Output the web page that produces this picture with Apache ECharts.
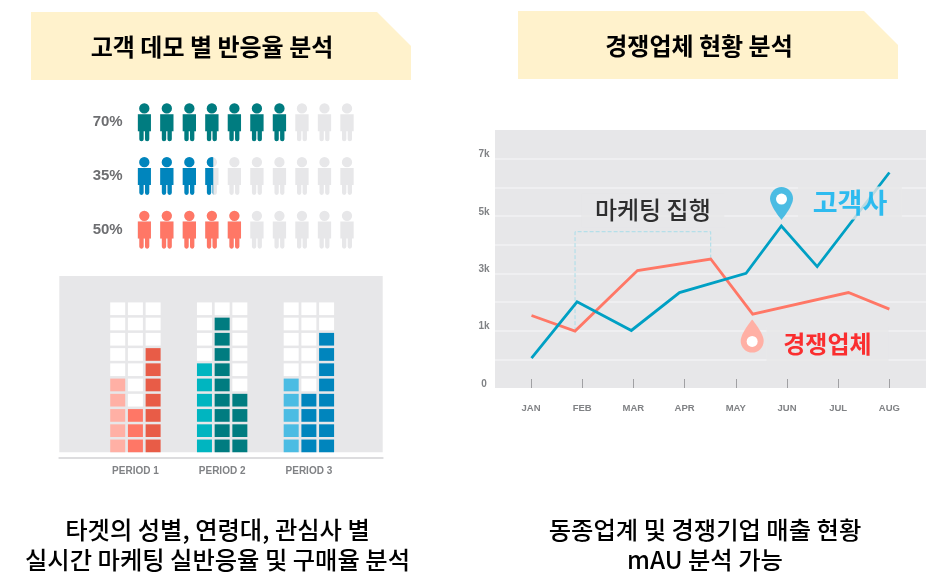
<!DOCTYPE html>
<html>
<head>
<meta charset="utf-8">
<style>html,body{margin:0;padding:0;background:#fff}#c{width:927px;height:572px}</style>
<script src="https://cdn.jsdelivr.net/npm/echarts@6/dist/echarts.min.js"></script>
</head>
<body>
<div id="c"></div>
<script>
// ---- pictogram rows
const rowLabels = ['70%', '35%', '50%'];
const rowValues = [70, 35, 50];
const rowColors = ['#007C80', '#0085BD', '#FF7766'];
// ---- filled blocks per column, per period
const periods = ['PERIOD 1', 'PERIOD 2', 'PERIOD 3'];
const periodHeights = [[5, 3, 7], [6, 9, 4], [5, 4, 8]];
const periodColors = [
  ['#FFB0A5', '#FF7766', '#E85C47'],
  ['#00B5C0', '#007C80', '#007C80'],
  ['#4BBCE3', '#0085BD', '#0085BD']
];
// ---- line chart
const months = ['JAN', 'FEB', 'MAR', 'APR', 'MAY', 'JUN', 'JUL', 'AUG'];
const clientX = [0.01, 0.90, 1.96, 2.90, 4.20, 4.89, 5.59, 7.00];
const clientY = [44, 2005, 1007, 2330, 3000, 4650, 3234, 6517];
const rivalX = [0.01, 0.86, 2.08, 3.51, 4.33, 6.20, 7.00];
const rivalY = [1529, 984, 3095, 3500, 1575, 2330, 1750];
const campaignX = [0.86, 0.86, 3.51, 3.51];
const campaignY = [984, 4452, 4452, 3500];
const yTickValues = [-1000, 1000, 3000, 5000, 7000];
const yTickLabels = ['0', '1k', '3k', '5k', '7k'];

const KR = '"Noto Sans CJK KR", sans-serif';
const LAT = '"Liberation Sans", sans-serif';
const GREY = '#E7E7E9';
const person = 'path://M4.5 15.5a15.5 15.5 0 1 1 31 0a15.5 15.5 0 1 1 -31 0z' +
  'M0 33H40V84H35V108a6 6 0 0 1 -13 0V84H18V108a6 6 0 0 1 -13 0V84H0z';
const pin = 'path://M12 0C5.4 0 0 5.4 0 12C0 20 12 34 12 34C12 34 24 20 24 12C24 5.4 18.6 0 12 0Z';

// block data
const COL_STEP = 4.9;
const blocks = [];
periods.forEach((p, pi) => {
  [0, 1, 2].forEach(ci => {
    for (let r = 0; r < 10; r++) {
      blocks.push({
        value: [pi * COL_STEP + ci, r + 0.42],
        itemStyle: { color: r < periodHeights[pi][ci] ? periodColors[pi][ci] : '#FFFFFF', opacity: 1 }
      });
    }
  });
});
const zip = (a, b) => a.map((v, i) => [v, b[i]]);

function headerShape(x, y) {
  return {
    type: 'polygon',
    shape: { points: [[x, y], [x + 346, y], [x + 380, y + 34], [x + 380, y + 68], [x, y + 68]] },
    style: { fill: '#FFF2CC' }
  };
}
function txt(x, y, text, size, weight, fill) {
  return {
    type: 'text', x: x, y: y, z: 10,
    style: { text: text, fill: fill || '#000', font: weight + ' ' + size + 'px ' + KR, textAlign: 'center', textVerticalAlign: 'middle' }
  };
}
function note(at, text, color, size, w, h, weight) {
  return {
    value: at,
    symbolSize: 0,
    label: {
      show: true, position: 'inside', formatter: text, color: color,
      fontFamily: KR, fontSize: size, fontWeight: weight,
      width: w, height: h, lineHeight: h, align: 'center', verticalAlign: 'middle',
      backgroundColor: GREY
    }
  };
}

const option = {
  animation: false,
  backgroundColor: '#fff',
  graphic: [
    headerShape(31, 12), headerShape(518, 11),
    txt(212, 47, '고객 데모 별 반응율 분석', 24, 'bold'),
    txt(699, 46, '경쟁업체 현황 분석', 24, 'bold'),
    txt(217.5, 530, '타겟의 성별, 연령대, 관심사 별', 24.3, '500'),
    txt(217.5, 560, '실시간 마케팅 실반응율 및 구매율 분석', 24.3, '500'),
    txt(705, 530, '동종업계 및 경쟁기업 매출 현황', 24.3, '500'),
    txt(705, 560, 'mAU 분석 가능', 24.3, '500')
  ],
  grid: [
    { left: 137.65, top: 95.5, width: 216, height: 161 },
    { left: 59.3, top: 276, width: 323.4, height: 176.3, show: true, backgroundColor: GREY, borderWidth: 0 },
    { left: 495, top: 130, width: 431, height: 258, show: true, backgroundColor: GREY, borderWidth: 0 }
  ],
  xAxis: [
    { gridIndex: 0, type: 'value', min: 0, max: 100, show: false },
    {
      gridIndex: 1, type: 'value', min: -3.3, max: 14.97, offset: 5.5,
      splitLine: { show: false }, axisTick: { show: false },
      axisLine: { show: true, onZero: false, lineStyle: { color: '#DDDDDF', width: 2 } },
      axisLabel: {
        customValues: periods.map((p, i) => i * COL_STEP + 1),
        formatter: v => periods[Math.round((v - 1) / COL_STEP)],
        color: '#808285', fontFamily: LAT, fontWeight: 'bold', fontSize: 10, margin: 8
      }
    },
    {
      gridIndex: 2, type: 'value', min: -0.703, max: 7.715,
      splitLine: { show: false },
      axisLine: { show: false, onZero: false },
      axisTick: { show: true, inside: true, length: 9, customValues: months.map((m, i) => i), lineStyle: { color: '#A0A0A3', width: 1 } },
      axisLabel: {
        customValues: months.map((m, i) => i),
        formatter: v => months[Math.round(v)],
        color: '#808285', fontFamily: LAT, fontWeight: 'bold', fontSize: 9.5, margin: 15.5
      }
    }
  ],
  yAxis: [
    {
      gridIndex: 0, type: 'category', inverse: true, data: rowLabels,
      axisLine: { show: false }, axisTick: { show: false },
      axisLabel: { color: '#6D6E71', fontFamily: LAT, fontWeight: 'bold', fontSize: 15, margin: 15 }
    },
    { gridIndex: 1, type: 'value', min: 0, max: 11.57, show: false },
    {
      gridIndex: 2, type: 'value', min: -1000, max: 8000, interval: 1000,
      axisLine: { show: false, onZero: false }, axisTick: { show: false },
      splitLine: { show: true, showMinLine: false, showMaxLine: false, lineStyle: { color: '#F2F2F3', width: 1.5 } },
      axisLabel: {
        customValues: yTickValues,
        formatter: v => yTickLabels[yTickValues.indexOf(v)],
        color: '#808285', fontFamily: LAT, fontWeight: 'bold', fontSize: 10, margin: 11, align: 'center',
        verticalAlign: 'bottom', lineHeight: 8
      }
    }
  ],
  series: [
    {
      type: 'pictorialBar', xAxisIndex: 0, yAxisIndex: 0, z: 1, silent: true,
      symbol: person, symbolSize: [13.3, 38], symbolRepeat: 10, symbolBoundingData: 100,
      barGap: '-100%', barCategoryGap: 0,
      itemStyle: { color: GREY },
      data: rowValues.map(() => 100)
    },
    {
      type: 'pictorialBar', xAxisIndex: 0, yAxisIndex: 0, z: 2, silent: true,
      symbol: person, symbolSize: [13.3, 38], symbolRepeat: 10, symbolBoundingData: 100, symbolClip: true,
      barGap: '-100%', barCategoryGap: 0,
      data: rowValues.map((v, i) => ({ value: v, itemStyle: { color: rowColors[i] } }))
    },
    {
      type: 'scatter', xAxisIndex: 1, yAxisIndex: 1, silent: true,
      symbol: 'rect', symbolSize: [15, 12.7], data: blocks
    },
    {
      name: 'campaign', type: 'line', xAxisIndex: 2, yAxisIndex: 2, z: 2, silent: true, symbol: 'none',
      lineStyle: { color: '#A9DDE9', width: 1, type: 'dashed' }, data: zip(campaignX, campaignY)
    },
    {
      name: '경쟁업체', type: 'line', xAxisIndex: 2, yAxisIndex: 2, z: 3, silent: true, symbol: 'none',
      lineStyle: { color: '#FF7766', width: 2.8, join: 'miter' }, data: zip(rivalX, rivalY)
    },
    {
      name: '고객사', type: 'line', xAxisIndex: 2, yAxisIndex: 2, z: 4, silent: true, symbol: 'none',
      lineStyle: { color: '#00A0C4', width: 2.8, join: 'miter' }, data: zip(clientX, clientY)
    },
    {
      type: 'scatter', xAxisIndex: 2, yAxisIndex: 2, z: 5, silent: true,
      data: [
        note([2.38, 5200], '마케팅 집행', '#000', 24, 143, 34, '500'),
        note([6.23, 5457], '고객사', '#00B0F0', 27, 104, 33, 'bold'),
        note([5.79, 536], '경쟁업체', '#FF0000', 24, 122, 35, 'bold')
      ]
    },
    {
      type: 'scatter', xAxisIndex: 2, yAxisIndex: 2, z: 6, silent: true,
      data: [
        { value: [4.893, 5440], symbol: pin, symbolSize: [23, 33], itemStyle: { color: '#4BBCE3', opacity: 1 } },
        { value: [4.32, 810], symbol: pin, symbolSize: [23, 33], symbolRotate: 180, itemStyle: { color: '#FFB0A5', opacity: 1 } }
      ]
    },
    {
      type: 'scatter', xAxisIndex: 2, yAxisIndex: 2, z: 7, silent: true,
      symbol: 'circle', symbolSize: 11, itemStyle: { color: '#fff', opacity: 1 },
      data: [[4.893, 5590], [4.32, 624]]
    }
  ]
};
echarts.init(document.getElementById('c'), null, { renderer: 'canvas' }).setOption(option);
</script>
</body>
</html>
